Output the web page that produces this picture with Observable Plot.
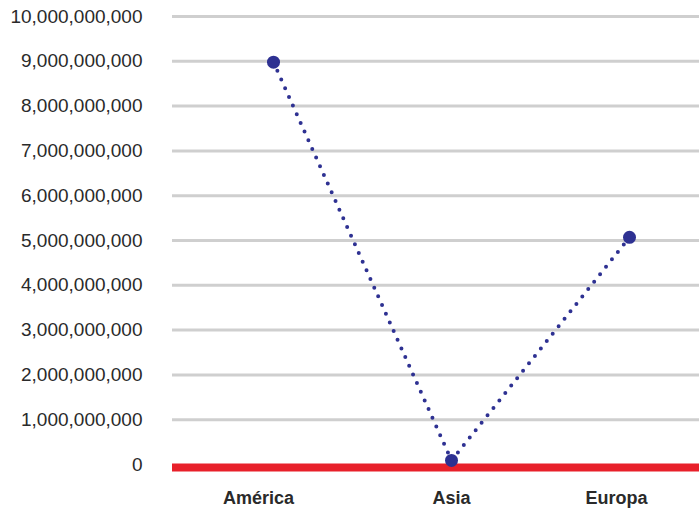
<!DOCTYPE html>
<html>
<head>
<meta charset="utf-8">
<script src="https://cdn.jsdelivr.net/npm/d3@7"></script>
<script src="https://cdn.jsdelivr.net/npm/@observablehq/plot@0.6"></script>
<style>
  html, body { margin: 0; padding: 0; background: #fff; }
  svg { display: block; }
</style>
</head>
<body>
<div id="chart"></div>
<script>
const regions = ["América", "Asia", "Europa"];
const values = [8980000000, 90000000, 5070000000];
const yTicks = [0, 1e9, 2e9, 3e9, 4e9, 5e9, 6e9, 7e9, 8e9, 9e9, 1e10];

const data = regions.map((r, i) => ({region: r, value: values[i]}));

const labelStyle = {frameAnchor: "bottom", dy: 34, lineAnchor: "middle", fontSize: 18, fontWeight: "bold", fill: "#2a2a2a"};

const chart = Plot.plot({
  width: 699,
  height: 510,
  marginLeft: 172,
  marginRight: 0,
  marginTop: 16,
  marginBottom: 46,
  style: {fontFamily: "'Liberation Sans', Arial, sans-serif", background: "#fff"},
  x: {type: "point", domain: regions, range: [272, 629], padding: 0, axis: null},
  y: {domain: [0, 1e10], ticks: yTicks},
  marks: [
    Plot.ruleY(yTicks.slice(1), {stroke: "#cfcfcf", strokeWidth: 3}),
    Plot.axisY({ticks: yTicks, tickSize: 0, tickPadding: 30, tickFormat: d3.format(","), fontSize: 19, fill: "#2a2a2a", label: null}),
    Plot.text([regions[0]], {x: d => d, text: d => d, dx: -15, ...labelStyle}),
    Plot.text([regions[1]], {x: d => d, text: d => d, dx: 0, ...labelStyle}),
    Plot.text([regions[2]], {x: d => d, text: d => d, dx: -13, ...labelStyle}),
    Plot.ruleY([0], {stroke: "#e8202a", strokeWidth: 8, dy: 3}),
    Plot.line(data, {x: "region", y: "value", stroke: "#2e3192", strokeWidth: 4, strokeDasharray: "0 9.5", strokeLinecap: "round"}),
    Plot.dot(data, {x: "region", y: "value", r: 6.5, fill: "#2e3192", stroke: "none"})
  ]
});
document.getElementById("chart").appendChild(chart);
</script>
</body>
</html>
